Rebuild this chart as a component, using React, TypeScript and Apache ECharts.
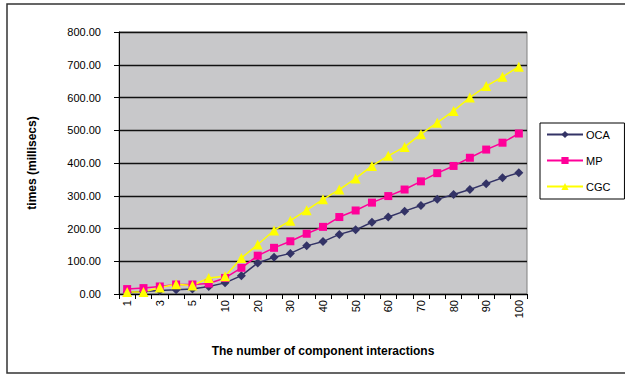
import React, { useEffect, useRef } from "react";
import * as echarts from "echarts";

const categories = ["1","2","3","4","5","7","10","15","20","25","30","35","40","45","50","55","60","65","70","75","80","85","90","95","100"];
const ocaValues = [5,8,11,13,15,23,34,56,95,112,124,147,160,182,196,219,235,253,270,289,304,319,337,355,370];
const mpValues = [15,18,23,29,29,32,49,80,117,141,161,184,205,235,255,279,299,319,344,369,391,416,441,462,490];
const cgcValues = [6,6,20,30,26,49,54,110,151,194,224,256,289,319,353,391,422,449,488,523,559,600,635,663,694];
const seriesNames = ["OCA", "MP", "CGC"];

const FONT = "Arial, 'Liberation Sans', sans-serif";

export default function App() {
  const ref = useRef<HTMLDivElement>(null);
  useEffect(() => {
    if (!ref.current) return;
    const chart = echarts.init(ref.current, null, { renderer: "svg" });
    chart.setOption({
      animation: false,
      backgroundColor: "#ffffff",
      textStyle: { fontFamily: FONT },
      grid: { left: 119, top: 32, width: 408, height: 262, containLabel: false, show: true, backgroundColor: "#C8C8CA", borderColor: "#808080", borderWidth: 1 },
      legend: {
        orient: "vertical",
        left: 540,
        top: 123,
        padding: [6, 14, 7, 6],
        itemGap: 15,
        itemWidth: 36,
        itemHeight: 9,
        borderColor: "#000",
        borderWidth: 1,
        backgroundColor: "#fff",
        textStyle: { fontFamily: FONT, fontSize: 11, color: "#000", padding: [0, 0, 0, -2] },
        data: seriesNames,
      },
      xAxis: {
        type: "category",
        data: categories,
        boundaryGap: true,
        name: "The number of component interactions",
        nameLocation: "middle",
        nameGap: 51,
        nameTextStyle: { fontFamily: FONT, fontSize: 12, fontWeight: "bold", color: "#000" },
        axisLine: { lineStyle: { color: "#000", width: 1 } },
        axisTick: { show: true, interval: 0, length: 5, lineStyle: { color: "#000" } },
        axisLabel: { rotate: 90, interval: 1, fontFamily: FONT, fontSize: 11, color: "#000", margin: 6 },
        splitLine: { show: false },
      },
      yAxis: {
        type: "value",
        min: 0,
        max: 800,
        interval: 100,
        name: "times (millisecs)",
        nameLocation: "middle",
        nameGap: 81,
        nameTextStyle: { fontFamily: FONT, fontSize: 12, fontWeight: "bold", color: "#000" },
        axisLine: { show: true, lineStyle: { color: "#000", width: 1 } },
        axisTick: { show: true, length: 5, lineStyle: { color: "#000" } },
        axisLabel: { formatter: (v: number) => v.toFixed(2), fontFamily: FONT, fontSize: 11, color: "#000", margin: 18 },
        splitLine: { show: true, lineStyle: { color: "#111", width: 1.3 } },
      },
      graphic: [
        { type: "rect", shape: { x: 7, y: 4, width: 630, height: 369 }, style: { fill: "none", stroke: "#333", lineWidth: 1.5 }, silent: true },
      ],
      series: [
        { name: "OCA", type: "line", data: ocaValues, symbol: "diamond", symbolSize: 9, color: "#333366", lineStyle: { width: 1.5, color: "#333366" }, itemStyle: { color: "#333366" } },
        { name: "MP", type: "line", data: mpValues, symbol: "rect", symbolSize: 8, color: "#FF0099", lineStyle: { width: 1.5, color: "#FF0099" }, itemStyle: { color: "#FF0099" } },
        { name: "CGC", type: "line", data: cgcValues, symbol: "triangle", symbolSize: 10, color: "#FFFF00", lineStyle: { width: 1.5, color: "#FFFF00" }, itemStyle: { color: "#FFFF00" } },
      ],
    });
    return () => chart.dispose();
  }, []);
  return <div ref={ref} style={{ position: "fixed", left: 0, top: 0, width: 625, height: 381 }} />;
}
